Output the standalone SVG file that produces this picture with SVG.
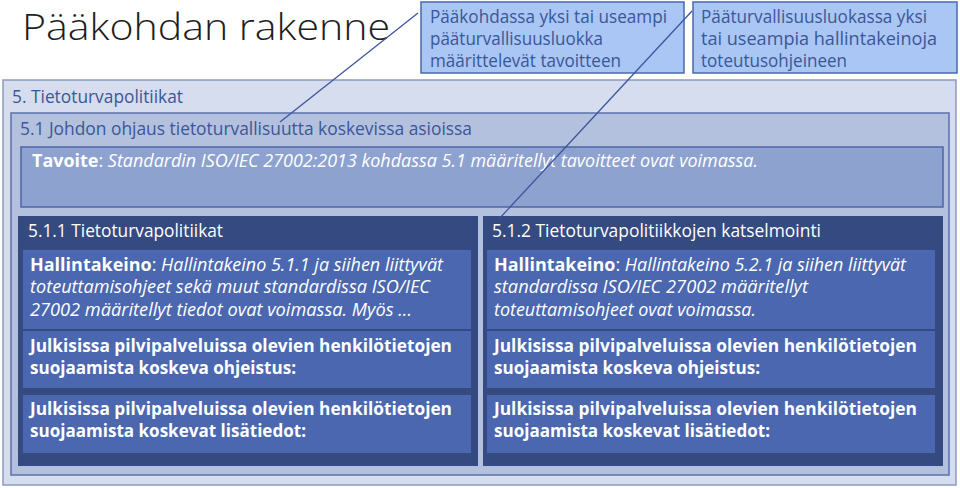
<svg xmlns="http://www.w3.org/2000/svg" width="960" height="488" viewBox="0 0 960 488">
<style>
text{font-family:"Open Sans","Noto Sans","DejaVu Sans",sans-serif}
.title{font-size:36px;font-weight:300;fill:#1e1e1e}
.call{fill:#a9c6f5;stroke:#4a68ac;stroke-width:1.5}
.ct{font-size:18px;fill:#3b5797}
.lvl1{fill:#d6ddee;stroke:#8b9ac0;stroke-width:1.5}
.lvl2{fill:#b3c0de;stroke:#5b71aa;stroke-width:1.5}
.goal{fill:#8ea2d0;stroke:#4c66a8;stroke-width:1.5}
.dark{fill:#354a80}
.inner{fill:#4a67b0}
.ht{font-size:18.5px;fill:#3b5797}
.wt{font-size:18px;fill:#ffffff}
.gt{font-size:17.5px;fill:#ffffff}
.bt{font-size:17.5px;fill:#ffffff;font-weight:700}
.b{font-weight:700}
.i{font-style:italic}
.conn{stroke:#3d55a0;stroke-width:1.3;fill:none}
</style>
<g id="title"><text class="title" x="22" y="40" textLength="368" lengthAdjust="spacingAndGlyphs">Pääkohdan rakenne</text></g>
<g id="callout1">
<rect class="call" x="421" y="2" width="263" height="71"/>
<text class="ct" x="430" y="23" textLength="237" lengthAdjust="spacingAndGlyphs">Pääkohdassa yksi tai useampi</text>
<text class="ct" x="430" y="45" textLength="173" lengthAdjust="spacingAndGlyphs">pääturvallisuusluokka</text>
<text class="ct" x="430" y="67" textLength="191" lengthAdjust="spacingAndGlyphs">määrittelevät tavoitteen</text>
</g>
<g id="callout2">
<rect class="call" x="693" y="2" width="264" height="71"/>
<text class="ct" x="701" y="23" textLength="226" lengthAdjust="spacingAndGlyphs">Pääturvallisuusluokassa yksi</text>
<text class="ct" x="701" y="45" textLength="236" lengthAdjust="spacingAndGlyphs">tai useampia hallintakeinoja</text>
<text class="ct" x="701" y="67" textLength="146" lengthAdjust="spacingAndGlyphs">toteutusohjeineen</text>
</g>
<g id="section5">
<rect class="lvl1" x="3" y="80" width="953" height="405"/>
<text class="ht" x="12" y="103" textLength="171" lengthAdjust="spacingAndGlyphs">5. Tietoturvapolitiikat</text>
</g>
<g id="section51">
<rect class="lvl2" x="11" y="113" width="938" height="362"/>
<text class="ht" x="20" y="135" textLength="452" lengthAdjust="spacingAndGlyphs">5.1 Johdon ohjaus tietoturvallisuutta koskevissa asioissa</text>
</g>
<g id="goal">
<rect class="goal" x="21" y="147" width="922" height="60"/>
<text class="gt" x="32" y="167" textLength="726" lengthAdjust="spacingAndGlyphs"><tspan class="b">Tavoite</tspan>: <tspan class="i">Standardin ISO/IEC 27002:2013 kohdassa 5.1 määritellyt tavoitteet ovat voimassa.</tspan></text>
</g>
<g id="control511">
<rect class="dark" x="18" y="216" width="460" height="250"/>
<text class="wt" x="28" y="237" textLength="195" lengthAdjust="spacingAndGlyphs" style="font-size:18.5px">5.1.1 Tietoturvapolitiikat</text>
<rect class="inner" x="23" y="250" width="448" height="79"/>
<text class="wt" x="30" y="271" textLength="413" lengthAdjust="spacingAndGlyphs"><tspan class="b">Hallintakeino</tspan>: <tspan class="i">Hallintakeino 5.1.1 ja siihen liittyvät</tspan></text>
<text class="wt i" x="30" y="293" textLength="400" lengthAdjust="spacingAndGlyphs">toteuttamisohjeet sekä muut standardissa ISO/IEC</text>
<text class="wt i" x="30" y="316" textLength="382" lengthAdjust="spacingAndGlyphs">27002 määritellyt tiedot ovat voimassa. Myös ...</text>
<rect class="inner" x="23" y="331" width="448" height="57"/>
<text class="bt" x="30" y="352" textLength="422" lengthAdjust="spacingAndGlyphs">Julkisissa pilvipalveluissa olevien henkilötietojen</text>
<text class="bt" x="30" y="374" textLength="266" lengthAdjust="spacingAndGlyphs">suojaamista koskeva ohjeistus:</text>
<rect class="inner" x="23" y="395" width="448" height="58"/>
<text class="bt" x="30" y="415" textLength="422" lengthAdjust="spacingAndGlyphs">Julkisissa pilvipalveluissa olevien henkilötietojen</text>
<text class="bt" x="30" y="437" textLength="276" lengthAdjust="spacingAndGlyphs">suojaamista koskevat lisätiedot:</text>
</g>
<g id="control512">
<rect class="dark" x="483" y="216" width="460" height="250"/>
<text class="wt" x="492" y="237" textLength="329" lengthAdjust="spacingAndGlyphs" style="font-size:18.5px">5.1.2 Tietoturvapolitiikkojen katselmointi</text>
<rect class="inner" x="487" y="250" width="448" height="79"/>
<text class="wt" x="494" y="271" textLength="412" lengthAdjust="spacingAndGlyphs"><tspan class="b">Hallintakeino</tspan>: <tspan class="i">Hallintakeino 5.2.1 ja siihen liittyvät</tspan></text>
<text class="wt i" x="494" y="293" textLength="314" lengthAdjust="spacingAndGlyphs">standardissa ISO/IEC 27002 määritellyt</text>
<text class="wt i" x="494" y="316" textLength="262" lengthAdjust="spacingAndGlyphs">toteuttamisohjeet ovat voimassa.</text>
<rect class="inner" x="487" y="331" width="448" height="57"/>
<text class="bt" x="494" y="352" textLength="423" lengthAdjust="spacingAndGlyphs">Julkisissa pilvipalveluissa olevien henkilötietojen</text>
<text class="bt" x="494" y="374" textLength="266" lengthAdjust="spacingAndGlyphs">suojaamista koskeva ohjeistus:</text>
<rect class="inner" x="487" y="395" width="448" height="58"/>
<text class="bt" x="494" y="415" textLength="423" lengthAdjust="spacingAndGlyphs">Julkisissa pilvipalveluissa olevien henkilötietojen</text>
<text class="bt" x="494" y="437" textLength="276" lengthAdjust="spacingAndGlyphs">suojaamista koskevat lisätiedot:</text>
</g>
<g id="connectors">
<line class="conn" x1="418" y1="13" x2="280" y2="122"/>
<line class="conn" x1="692" y1="11" x2="499" y2="219"/>
</g>
</svg>
